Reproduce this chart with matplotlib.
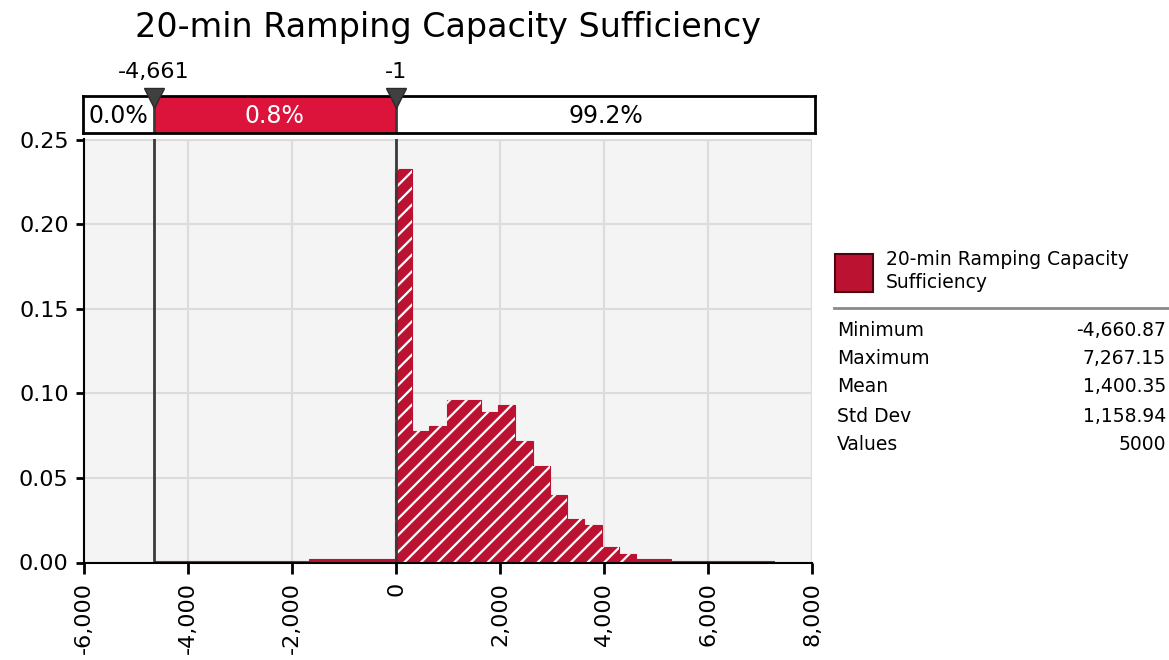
import numpy as np
import matplotlib
matplotlib.use("Agg")
import matplotlib.pyplot as plt
from matplotlib.patches import Rectangle
from matplotlib.ticker import FuncFormatter

# summary stats shown in the side panel
stat_names = ["Minimum", "Maximum", "Mean", "Std Dev", "Values"]
stat_values = ["-4,660.87", "7,267.15", "1,400.35", "1,158.94", "5000"]
data_min = -4660.87
data_max = 7267.15

# relative frequency of each of the 36 bins between min and max
bin_freq = [
    0.0007, 0.0007, 0.0007, 0.0007, 0.0007, 0.0007, 0.0007, 0.0007, 0.0007,
    0.0019, 0.0019, 0.0019, 0.0019, 0.0019,
    0.233, 0.078, 0.081, 0.096, 0.096, 0.089, 0.093, 0.072, 0.057, 0.040,
    0.026, 0.022, 0.009, 0.005, 0.002, 0.002,
    0.0008, 0.0006, 0.0006, 0.0006, 0.0006, 0.0006,
]

# delimiters on the top band and the share of values in each region
cut_values = [-4661, -1]
cut_labels = ["-4,661", "-1"]
band_pct = ["0.0%", "0.8%", "99.2%"]

title = "20-min Ramping Capacity Sufficiency"
series_name = "20-min Ramping Capacity\nSufficiency"

W, H = 1169, 660
RED = "#bb1232"
BAND_RED = "#dc143c"
DARK = "#3a3a3a"

plt.rcParams["font.family"] = ["DejaVu Sans"]
plt.rcParams["hatch.color"] = "white"
plt.rcParams["hatch.linewidth"] = 1.6


def fx(x):
    return x / W


def fy(y):
    return 1 - y / H


fig = plt.figure(figsize=(W / 100, H / 100), dpi=100)

# main histogram axes
ax = fig.add_axes([fx(84), fy(562.5), fx(812 - 84), (562.5 - 139) / H])
ax.set_facecolor("#f4f4f4")
edges = np.linspace(data_min, data_max, len(bin_freq) + 1)
widths = np.diff(edges)
freq = np.array(bin_freq)
# thin same-colour edge keeps the near-empty bins visible as a line
ax.bar(edges[:-1], freq, width=widths, align="edge", color=RED,
       edgecolor=RED, linewidth=0.8, zorder=2)
# hatch only the bars tall enough to show it
tall = freq > 0.003
ax.bar(edges[:-1][tall], freq[tall], width=widths[tall], align="edge",
       facecolor="none", edgecolor="white", hatch="//", linewidth=0, zorder=3)
for v in cut_values:
    ax.axvline(v, color=DARK, lw=2, zorder=4)

ax.set_xlim(-6000, 8000)
ax.set_ylim(0, 0.2505)
ax.set_xticks(np.arange(-6000, 8001, 2000))
ax.set_yticks(np.arange(0, 0.26, 0.05))
ax.xaxis.set_major_formatter(FuncFormatter(lambda v, p: f"{v:,.0f}"))
ax.yaxis.set_major_formatter(FuncFormatter(lambda v, p: f"{v:.2f}"))
ax.grid(True, color="#dcdcdc", lw=1.5, zorder=0)
ax.set_axisbelow(True)
for s in ["top", "right"]:
    ax.spines[s].set_visible(False)
for s in ["left", "bottom"]:
    ax.spines[s].set_color("black")
    ax.spines[s].set_linewidth(1.5)
    ax.spines[s].set_zorder(5)
ax.tick_params(axis="both", labelsize=16, width=2, length=6, color="black")
ax.tick_params(axis="x", labelrotation=90, length=8, pad=6)
ax.tick_params(axis="y", pad=5)

# top band with percentages
bx0, bx1 = 83, 815
band = fig.add_axes([fx(bx0), fy(133), fx(bx1 - bx0), (133 - 96) / H])
px_per_unit = (812 - 84) / 14000
band.set_xlim(-6000 - (84 - bx0) / px_per_unit, 8000 + (bx1 - 812) / px_per_unit)
band.set_ylim(0, 1)
band.set_xticks([])
band.set_yticks([])
for s in band.spines.values():
    s.set_linewidth(2)
    s.set_color("black")
xl, xr = band.get_xlim()
band.add_patch(Rectangle((cut_values[0], 0), cut_values[1] - cut_values[0], 1,
                         color=BAND_RED, lw=0))
for v in cut_values:
    band.axvline(v, color=DARK, lw=2)
band.text((xl + cut_values[0]) / 2, 0.45, band_pct[0], ha="center", va="center",
          fontsize=17)
band.text((cut_values[0] + cut_values[1]) / 2, 0.45, band_pct[1], ha="center",
          va="center", fontsize=17, color="white")
band.text((cut_values[1] + xr) / 2, 0.45, band_pct[2], ha="center", va="center",
          fontsize=17)
band.plot(cut_values, [0.95, 0.95], ls="none", marker="v", markersize=14,
          color="#404040", markeredgecolor="#2a2a2a", clip_on=False, zorder=5)
for v, lab in zip(cut_values, cut_labels):
    band.text(v, 1.65, lab, ha="center", va="center", fontsize=16,
              clip_on=False)

fig.text(fx(448), fy(28), title, ha="center", va="center", fontsize=24)

# legend swatch and stats panel
fig.patches.append(Rectangle((fx(835), fy(292)), fx(38), 38 / H,
                             transform=fig.transFigure, facecolor=RED,
                             edgecolor="#4a0510", lw=1.5))
fig.text(fx(886), fy(271), series_name, ha="left", va="center", fontsize=13.5,
         linespacing=1.25)
fig.add_artist(plt.Line2D([fx(834), fx(1169)], [fy(308), fy(308)],
                          color="#8a8a8a", lw=2, transform=fig.transFigure))
row_y = [330, 358, 387, 416, 445]
for y, name, val in zip(row_y, stat_names, stat_values):
    fig.text(fx(837), fy(y), name, ha="left", va="center", fontsize=13.5)
    fig.text(fx(1166), fy(y), val, ha="right", va="center", fontsize=13.5)

fig.savefig("out.png", dpi=100)
